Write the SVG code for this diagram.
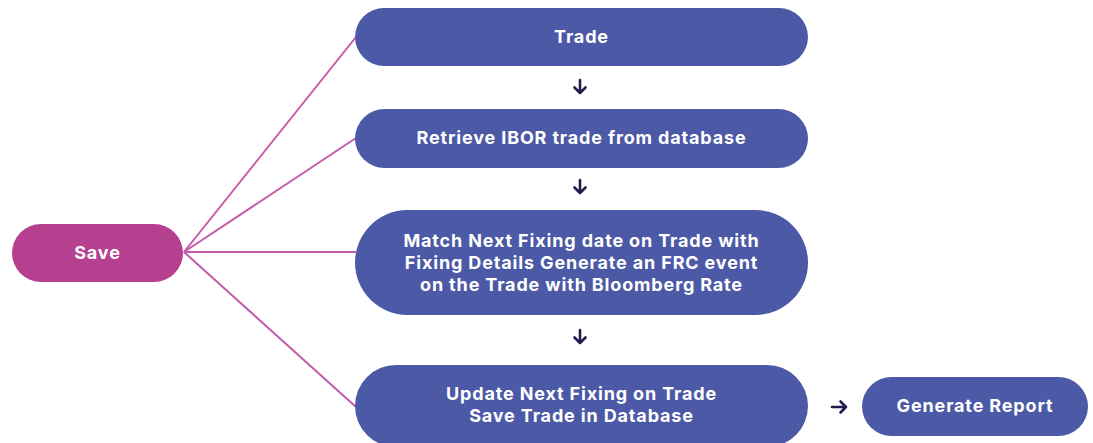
<svg xmlns="http://www.w3.org/2000/svg" width="1093" height="443" viewBox="0 0 1093 443">
<style>
.box{fill:#4B59A6}
.save{fill:#B5408F}
.t{font-family:"Inter","Open Sans","Liberation Sans",sans-serif;font-weight:700;font-size:18px;fill:#ffffff;text-anchor:middle;letter-spacing:0.85px}
.link{stroke:#C45AA8;stroke-width:2;fill:none}
.arr{stroke:#1F1C4E;stroke-width:2.6;fill:none;stroke-linecap:round;stroke-linejoin:round}
</style>
<rect width="1093" height="443" fill="#ffffff"/>
<g id="connectors">
<line class="link" x1="184" y1="252" x2="356" y2="37"/>
<line class="link" x1="184" y1="252" x2="356" y2="138"/>
<line class="link" x1="184" y1="252" x2="356" y2="252"/>
<line class="link" x1="184" y1="252" x2="356" y2="407"/>
<path class="arr" d="M580 80 V93 M574.5 87.5 L580 93 L585.5 87.5"/>
<path class="arr" d="M580 180 V193 M574.5 187.5 L580 193 L585.5 187.5"/>
<path class="arr" d="M580 330 V343 M574.5 337.5 L580 343 L585.5 337.5"/>
<path class="arr" d="M832 407 H846 M840.5 401.5 L846 407 L840.5 412.5"/>
</g>
<g id="save">
<rect class="save" x="12" y="224" width="171" height="58" rx="29"/>
<text class="t" x="97.5" y="259">Save</text>
</g>
<g id="trade">
<rect class="box" x="355" y="8" width="453" height="58" rx="29"/>
<text class="t" x="581.5" y="43">Trade</text>
</g>
<g id="retrieve">
<rect class="box" x="355" y="109" width="453" height="59" rx="29.5"/>
<text class="t" x="581.5" y="144">Retrieve IBOR trade from database</text>
</g>
<g id="match">
<rect class="box" x="355" y="210" width="453" height="105" rx="52.5"/>
<text class="t" x="581.5" y="247">Match Next Fixing date on Trade with</text>
<text class="t" x="581.5" y="269">Fixing Details Generate an FRC event</text>
<text class="t" x="581.5" y="291">on the Trade with Bloomberg Rate</text>
</g>
<g id="update">
<rect class="box" x="355" y="365" width="453" height="82" rx="41"/>
<text class="t" x="581.5" y="400">Update Next Fixing on Trade</text>
<text class="t" x="581.5" y="422">Save Trade in Database</text>
</g>
<g id="report">
<rect class="box" x="862" y="377" width="226" height="59" rx="29.5"/>
<text class="t" x="975" y="412">Generate Report</text>
</g>
</svg>
